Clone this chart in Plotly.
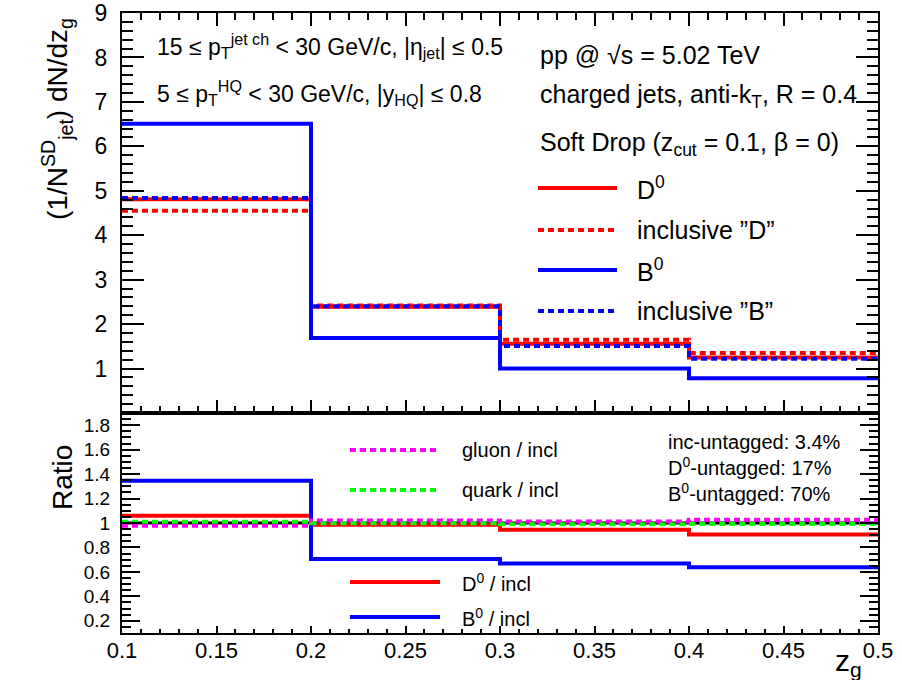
import plotly.graph_objects as go

# ---------------- data ----------------
zg_edges = [0.1, 0.2, 0.3, 0.4, 0.5]

d0 = [4.81, 2.39, 1.56, 1.25]
incl_d = [4.55, 2.42, 1.65, 1.35]
b0 = [6.51, 1.69, 1.00, 0.78]
incl_b = [4.84, 2.40, 1.51, 1.22]

ratio_d0 = [1.06, 0.985, 0.945, 0.905]
ratio_b0 = [1.345, 0.705, 0.668, 0.638]
ratio_gluon = [0.978, 1.020, 1.012, 1.027]
ratio_quark = [1.010, 0.998, 0.990, 0.992]

top_ytick_vals = [1, 2, 3, 4, 5, 6, 7, 8, 9]

# ---------------- helpers ----------------
W, H = 902, 680
ML, MR, MT, MB = 122, 24, 13, 47
PW, PH = W - ML - MR, H - MT - MB
SPLIT = 220 / 620.0


def px(x):
    return (x - ML) / PW


def py(y):
    return (H - MB - y) / PH


def step(v):
    return list(v) + [v[-1]]


RED, BLUE, MAG, GRN = "#ff0000", "#0000ff", "#ff00ff", "#00ff00"
DOT = "6px,4px"
LW = 4
FONT = "Liberation Sans, Arial, Helvetica, sans-serif"

fig = go.Figure()

top_series = [
    (d0, RED, "solid", "D0"),
    (incl_d, RED, DOT, "inclusive D"),
    (b0, BLUE, "solid", "B0"),
    (incl_b, BLUE, DOT, "inclusive B"),
]
for vals, col, dash, name in top_series:
    fig.add_trace(go.Scatter(x=zg_edges, y=step(vals), mode="lines", name=name,
                             line=dict(color=col, width=LW, dash=dash, shape="hv"),
                             xaxis="x", yaxis="y", showlegend=False))

bot_series = [
    (ratio_d0, RED, "solid", "D0/incl"),
    (ratio_b0, BLUE, "solid", "B0/incl"),
    (ratio_gluon, MAG, DOT, "gluon/incl"),
    (ratio_quark, GRN, DOT, "quark/incl"),
]
for vals, col, dash, name in bot_series:
    fig.add_trace(go.Scatter(x=zg_edges, y=step(vals), mode="lines", name=name,
                             line=dict(color=col, width=LW, dash=dash, shape="hv"),
                             xaxis="x2", yaxis="y2", showlegend=False))

shapes = [
    dict(type="line", xref="x2 domain", yref="y2", x0=0, x1=1, y0=1, y1=1,
         line=dict(color="black", width=3), layer="below"),
]

annotations = []


def text(x, y, s, size=22, xanchor="left", yanchor="middle", angle=0):
    annotations.append(dict(x=px(x), y=py(y), xref="paper", yref="paper", text=s,
                            showarrow=False, xanchor=xanchor, yanchor=yanchor,
                            textangle=angle,
                            font=dict(family=FONT, size=size, color="black")))


def legline(x0, x1, y, col, dash):
    shapes.append(dict(type="line", xref="paper", yref="paper",
                       x0=px(x0), x1=px(x1), y0=py(y), y1=py(y),
                       line=dict(color=col, width=LW, dash=dash)))


# top panel texts
text(155, 46, "15 ≤ p<sub>T</sub><sup>jet ch</sup> < 30 GeV/c, |η<sub>jet</sub>| ≤ 0.5", 23)
text(155, 93, "5 ≤ p<sub>T</sub><sup>HQ</sup> < 30 GeV/c, |y<sub>HQ</sub>| ≤ 0.8", 23)
text(538, 55, "pp @ √s = 5.02 TeV", 25)
text(538, 96, "charged jets, anti-k<sub>T</sub>, R = 0.4", 25)
text(538, 144, "Soft Drop (z<sub>cut</sub> = 0.1, β = 0)", 25)

leg_top = [(188, RED, "solid", "D<sup>0</sup>"),
           (230, RED, DOT, "inclusive ”D”"),
           (270, BLUE, "solid", "B<sup>0</sup>"),
           (311, BLUE, DOT, "inclusive ”B”")]
for y, col, dash, lab in leg_top:
    legline(538, 617, y, col, dash)
    text(635, y, lab, 25)

leg_bot = [(450, MAG, DOT, "gluon / incl"),
           (490, GRN, DOT, "quark / incl"),
           (582, RED, "solid", "D<sup>0</sup> / incl"),
           (617, BLUE, "solid", "B<sup>0</sup> / incl")]
for y, col, dash, lab in leg_bot:
    legline(350, 440, y, col, dash)
    text(460, y, lab, 20)

text(666, 442, "inc-untagged: 3.4%", 20)
text(666, 467, "D<sup>0</sup>-untagged: 17%", 20)
text(666, 492, "B<sup>0</sup>-untagged: 70%", 20)

# axis titles
text(57, 16, "(1/N<sup>SD</sup><sub>jet</sub>) dN/dz<sub>g</sub>", 28,
     xanchor="center", yanchor="top", angle=-90)
text(62, 478, "Ratio", 28, xanchor="center", yanchor="middle", angle=-90)
text(864, 662, "z<sub>g</sub>", 30, xanchor="right", yanchor="middle")

axis_common = dict(showline=True, linecolor="black", linewidth=2, showgrid=False,
                   zeroline=False, ticks="inside", tickcolor="black", tickwidth=2,
                   automargin=False)

fig.update_layout(
    width=W, height=H,
    margin=dict(l=ML, r=MR, t=MT, b=MB, autoexpand=False),
    paper_bgcolor="white", plot_bgcolor="white",
    font=dict(family=FONT, color="black"),
    shapes=shapes, annotations=annotations,
    xaxis=dict(axis_common, domain=[0, 1], anchor="y", range=[0.1, 0.5],
               tickmode="linear", tick0=0.1, dtick=0.05, ticklen=13,
               showticklabels=False, mirror="allticks",
               minor=dict(ticks="inside", ticklen=7, dtick=0.01, tick0=0.1,
                          tickcolor="black", tickwidth=1.5)),
    yaxis=dict(axis_common, domain=[SPLIT, 1], anchor="x", range=[0, 9],
               tickmode="array", tickvals=top_ytick_vals, ticklen=22,
               mirror="allticks", tickfont=dict(size=23), ticklabelstandoff=8,
               minor=dict(ticks="inside", ticklen=11, dtick=0.2, tick0=0,
                          tickmode="linear",
                          tickcolor="black", tickwidth=1.5)),
    xaxis2=dict(axis_common, domain=[0, 1], anchor="y2", range=[0.1, 0.5],
                tickmode="linear", tick0=0.1, dtick=0.05, ticklen=7,
                mirror=True, tickfont=dict(size=22), ticklabelstandoff=-3,
                minor=dict(ticks="inside", ticklen=4, dtick=0.01, tick0=0.1,
                           tickcolor="black", tickwidth=1.5)),
    yaxis2=dict(axis_common, domain=[0, SPLIT], anchor="x2", range=[0.1, 1.9],
                tickmode="linear", tick0=0, dtick=0.2, ticklen=18,
                mirror="allticks", tickfont=dict(size=19), ticklabelstandoff=6,
                minor=dict(ticks="inside", ticklen=9, dtick=0.05, tick0=0,
                           tickcolor="black", tickwidth=1.5)),
)

fig.write_html("out.html")
